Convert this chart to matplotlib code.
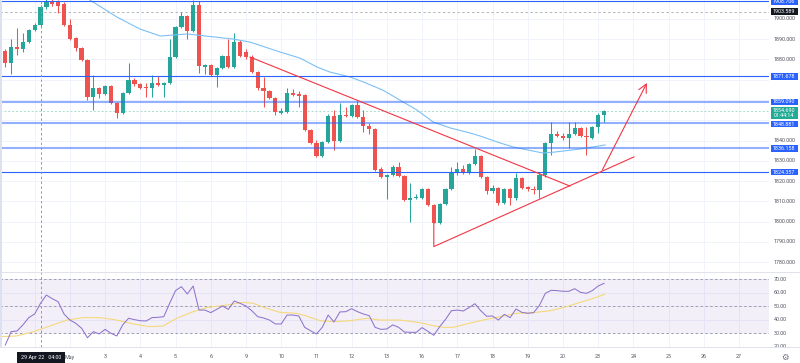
import matplotlib
matplotlib.use('Agg')
import matplotlib.pyplot as plt
from matplotlib.patches import Rectangle
import matplotlib.transforms as mtransforms
import numpy as np

plt.rcParams['font.family'] = ['Roboto', 'DejaVu Sans']

# ---------------- data (4h candles, XAUUSD) ----------------
opens = [1884.2, 1878.3, 1886.2, 1885.2, 1888.6, 1894.6, 1897.0, 1905.9, 1908.7, 1908.5,
         1907.5, 1897.0, 1890.6, 1885.7, 1879.8, 1861.5, 1865.9, 1863.0, 1866.9, 1858.5,
         1853.6, 1863.5, 1869.9, 1867.9, 1866.4, 1865.9, 1868.4, 1867.4, 1868.4, 1881.2,
         1896.0, 1901.5, 1894.1, 1906.9, 1876.3, 1877.3, 1872.4, 1875.8, 1881.7, 1876.3,
         1888.6, 1883.7, 1881.2, 1873.8, 1865.9, 1864.5, 1861.0, 1853.6, 1854.1, 1863.5,
         1863.0, 1862.5, 1845.2, 1838.8, 1832.4, 1839.3, 1852.1, 1839.8, 1852.6, 1852.1,
         1857.5, 1851.6, 1847.2, 1845.7, 1825.9, 1822.0, 1822.9, 1826.9, 1822.5, 1810.6,
         1811.6, 1811.6, 1816.1, 1808.1, 1799.3, 1808.6, 1816.1, 1824.4, 1825.9, 1823.9,
         1828.4, 1832.4, 1822.0, 1815.1, 1816.5, 1809.1, 1816.1, 1811.6, 1821.5, 1817.0,
         1816.1, 1815.6, 1822.9, 1838.8, 1843.2, 1842.2, 1841.2, 1843.2, 1846.2, 1842.2,
         1841.2, 1846.7, 1852.6]
highs = [1885.2, 1890.1, 1895.6, 1893.1, 1895.1, 1898.0, 1907.0, 1910.0, 1910.5, 1909.5,
         1908.5, 1899.9, 1891.1, 1886.2, 1880.3, 1872.4, 1866.4, 1867.4, 1867.4, 1859.0,
         1864.0, 1878.3, 1870.9, 1868.4, 1868.4, 1872.4, 1872.0, 1869.0, 1890.1, 1896.5,
         1903.5, 1902.0, 1909.4, 1909.0, 1878.0, 1877.8, 1876.3, 1882.2, 1890.1, 1893.1,
         1889.6, 1885.0, 1882.0, 1874.3, 1871.4, 1865.0, 1861.5, 1856.0, 1865.9, 1865.4,
         1864.5, 1863.0, 1845.7, 1840.3, 1840.0, 1853.0, 1855.1, 1858.5, 1856.5, 1858.0,
         1859.5, 1855.1, 1848.5, 1846.2, 1827.0, 1823.4, 1828.0, 1829.4, 1823.0, 1819.0,
         1813.5, 1816.6, 1816.6, 1808.6, 1809.1, 1816.6, 1826.9, 1829.4, 1827.9, 1829.0,
         1835.7, 1833.0, 1822.5, 1818.0, 1817.0, 1816.6, 1816.6, 1823.9, 1822.0, 1817.5,
         1817.5, 1823.9, 1839.3, 1849.1, 1844.5, 1843.5, 1849.1, 1849.1, 1846.7, 1846.7,
         1847.2, 1853.6, 1855.1]
lows = [1876.3, 1872.8, 1882.2, 1883.7, 1888.1, 1894.1, 1896.5, 1905.0, 1906.5, 1903.0,
        1896.5, 1889.6, 1884.2, 1879.3, 1860.0, 1855.1, 1861.0, 1862.5, 1858.0, 1851.1,
        1853.1, 1863.0, 1866.9, 1865.4, 1861.5, 1861.5, 1866.9, 1861.5, 1867.9, 1880.7,
        1895.5, 1890.1, 1893.6, 1873.3, 1872.8, 1872.0, 1866.4, 1875.3, 1875.8, 1875.8,
        1881.2, 1880.0, 1873.3, 1865.0, 1856.5, 1860.5, 1852.6, 1853.1, 1853.6, 1862.0,
        1856.5, 1844.7, 1838.3, 1832.0, 1831.9, 1839.0, 1835.3, 1839.3, 1851.6, 1851.6,
        1851.1, 1844.2, 1843.0, 1824.9, 1821.5, 1811.1, 1822.5, 1822.0, 1810.1, 1799.8,
        1811.1, 1811.1, 1807.6, 1799.3, 1799.0, 1808.1, 1815.6, 1822.9, 1823.4, 1823.4,
        1828.0, 1821.5, 1813.6, 1814.1, 1808.1, 1808.6, 1808.1, 1810.6, 1816.1, 1815.1,
        1813.6, 1811.6, 1822.0, 1832.8, 1841.5, 1840.3, 1836.5, 1842.7, 1841.7, 1832.8,
        1840.8, 1843.7, 1849.1]
closes = [1878.3, 1886.2, 1885.2, 1888.6, 1894.6, 1897.0, 1905.9, 1908.7, 1907.5, 1906.5,
          1897.0, 1890.1, 1885.7, 1879.8, 1861.5, 1865.9, 1863.0, 1866.9, 1858.5, 1853.6,
          1863.5, 1869.9, 1867.9, 1865.9, 1865.9, 1868.4, 1867.4, 1868.4, 1881.2, 1896.0,
          1901.5, 1894.1, 1906.9, 1876.8, 1877.3, 1872.4, 1875.8, 1881.7, 1876.3, 1888.6,
          1881.7, 1881.2, 1873.8, 1865.9, 1864.5, 1861.0, 1854.1, 1854.6, 1863.5, 1862.5,
          1862.0, 1845.2, 1838.8, 1832.4, 1839.3, 1852.1, 1839.8, 1852.6, 1852.1, 1857.5,
          1851.6, 1847.2, 1845.7, 1825.4, 1822.0, 1823.0, 1826.9, 1822.5, 1810.6, 1811.6,
          1812.1, 1816.1, 1808.1, 1799.3, 1808.6, 1816.1, 1824.4, 1825.9, 1823.9, 1828.4,
          1832.4, 1822.0, 1815.1, 1816.5, 1809.1, 1816.1, 1811.6, 1821.5, 1816.5, 1816.1,
          1815.6, 1822.9, 1838.8, 1843.2, 1842.2, 1841.2, 1843.2, 1846.2, 1842.2, 1841.7,
          1846.7, 1852.6, 1854.7]

rsi = [21.1, 31.0, 31.5, 36, 41.4, 44.1, 52, 58.1, 55.4, 53.2,
       44.1, 39.6, 37.2, 33.5, 26.5, 31, 29.3, 32.7, 29.8, 27.8,
       36, 40.9, 39.9, 39.1, 38.9, 41.4, 41.6, 42.1, 52, 61.4,
       64.3, 58.9, 64.8, 47, 47, 45.1, 47.5, 50, 47.5, 53.7,
       52, 50, 46.5, 42.1, 41.1, 39.6, 36.7, 36.7, 43.3, 43.3,
       42.6, 34.2, 31.7, 29.3, 34.2, 43.3, 38.2, 45.6, 45.8, 48,
       45.8, 44.1, 42.8, 34.2, 32.7, 33, 36, 34.2,
       30.7, 30.5, 30.5, 34, 31.2, 28.3, 34.7, 40.1, 46.5, 47,
       46.3, 48.8, 51.7, 46.5, 42.4, 42.6, 39.6, 43.8, 41.4, 47.8,
       45.3, 44.6, 45.1, 50.5, 59.4, 61.6, 61.4, 60.9, 60.9, 62.8,
       60.1, 59.4, 61.4, 64.8, 66.8]

rsi_ma_idx = [-0.9, 1.9, 4.8, 7.6, 10.5, 13.3, 16.1, 19, 21.8, 24.6, 26.9, 29.2, 32, 34.3,
              37.7, 40.5, 42.2, 44.5, 46.8, 49.6, 51.3, 53.6, 55.9, 58.7, 61.6, 63.8, 67.2,
              70.6, 72.9, 74.6, 76.3, 78.6, 81.4, 84.3, 87.1, 90, 92.8, 95.1, 97.4, 99.7, 102.1]
rsi_ma_val = [27.3, 27.8, 31.0, 35.2, 39.6, 41.4, 41.4, 39.6, 36.7, 34.7, 35.2, 40.9, 45.8, 48.8,
              50.7, 52.7, 52, 48.3, 45.3, 44.6, 42.6, 39.1, 38.4, 39.1, 40.9, 39.6, 39.6,
              37.7, 35.4, 34.2, 34.2, 36.7, 39.6, 42.1, 44.6, 45.1, 46.5, 48.8, 52, 55, 58.6]

ma_idx = [13.0, 14.4, 19.0, 22.9, 26.4, 31.0, 38.8, 41.7, 46.8, 50.2, 53.1, 55.3, 58.7, 61.0,
          64.3, 67.2, 70.1, 72.9, 75.8, 79.2, 80.9, 84.3, 86.5, 91.6, 93.6, 97.9, 102.2]
ma_val = [1912.0, 1909.4, 1901.0, 1895.1, 1891.6, 1892.6, 1890.1, 1888.6, 1883.7, 1880.7,
          1876.3, 1873.8, 1871.4, 1868.9, 1864.9, 1860.0, 1855.1, 1849.1, 1846.2, 1843.7,
          1842.2, 1838.8, 1836.8, 1833.8, 1834.3, 1835.8, 1837.8]

level_prices = [1908.706, 1871.678, 1859.090, 1848.881, 1836.158, 1824.357]
level_strong = [True, True, False, False, False, True]
crosshair_price = 1903.589
last_price = 1854.690
countdown = "01:44:14"
crosshair_idx = 6
crosshair_label = "29 Apr 22   04:00"

day_idx = [11, 17, 23, 29, 35, 41, 47, 53, 59, 65, 71, 77, 83, 89, 95, 101, 107, 113, 119, 125]
day_labels = ["May", "3", "4", "5", "6", "9", "10", "11", "12", "13", "16", "17", "18",
              "19", "20", "23", "24", "25", "26", "27"]
grid_idx = [5] + day_idx
price_ticks = list(range(1780, 1901, 10))
hidden_ticks = [1850, 1860, 1870]   # covered by the level labels
rsi_ticks = [20, 30, 40, 50, 60, 70]

desc_idx = [41.7, 96.2]
desc_px = [1881.2, 1817.5]
asc_idx = [73.0, 73.0, 107.1]
asc_px = [1799.3, 1787.6, 1831.9]
arrow_idx = [101.7, 109.3]
arrow_px = [1825.4, 1868.4]

# ---------------- layout ----------------
W, H = 800, 363
fig = plt.figure(figsize=(W / 100, H / 100), dpi=100)
fig.patch.set_facecolor('white')

PLOT_R = 769
MAIN_TOP, MAIN_BOT = 0, 271
RSI_TOP, RSI_BOT = 272, 347

ax = fig.add_axes([0, 1 - MAIN_BOT / H, PLOT_R / W, (MAIN_BOT - MAIN_TOP) / H])
rx = fig.add_axes([0, 1 - RSI_BOT / H, PLOT_R / W, (RSI_BOT - RSI_TOP) / H])

x0, dx = 5.3, 5.87
xlim = ((0 - x0) / dx, (PLOT_R - x0) / dx)
ylim_main = (1775.56, 1909.38)
ylim_rsi = (19.63, 75.19)

for a in (ax, rx):
    a.set_xlim(*xlim)
    for s in a.spines.values():
        s.set_visible(False)
    a.set_xticks([])
    a.set_yticks([])
    a.set_facecolor('white')
ax.set_ylim(*ylim_main)
rx.set_ylim(*ylim_rsi)

GRID = '#f0f3fa'
ax.hlines(price_ticks, *xlim, colors=GRID, lw=0.7, zorder=0)
ax.vlines(grid_idx, *ylim_main, colors=GRID, lw=0.7, zorder=0)
rx.hlines(rsi_ticks, *xlim, colors=GRID, lw=0.7, zorder=0)
rx.vlines(grid_idx, *ylim_rsi, colors=GRID, lw=0.7, zorder=0)

# horizontal levels
BLUE = '#2962ff'
for p, strong in zip(level_prices, level_strong):
    if strong:
        ax.axhline(p, color=BLUE, lw=0.8, zorder=5)
    else:
        ax.axhline(p, color=BLUE, lw=1.5, alpha=0.5, zorder=5)

# crosshair and last-price lines
ax.axhline(crosshair_price, color='#b2b5be', lw=0.7, ls=(0, (2.5, 2.5)), zorder=1)
ax.axhline(last_price, color='#a6dcd3', lw=0.7, ls=(0, (2, 2)), zorder=1)
ax.axvline(crosshair_idx, color='#9598a1', lw=0.7, ls=(0, (2.5, 2.5)), zorder=6)
rx.axvline(crosshair_idx, color='#9598a1', lw=0.7, ls=(0, (2.5, 2.5)), zorder=6)

# candles
o = np.array(opens); c = np.array(closes); h = np.array(highs); l = np.array(lows)
idx = np.arange(len(o))
up = c >= o
cols = np.where(up, '#26a69a', '#ef5350')
ax.vlines(idx, l, h, colors=cols, lw=0.75, zorder=3)
body = np.maximum(np.abs(c - o), 0.45)
ax.bar(idx, body, bottom=np.minimum(o, c), width=0.72, color=cols, linewidth=0, zorder=4)

# moving average
ax.plot(ma_idx, ma_val, color='#7cc0f5', lw=0.8, zorder=4)

# trend drawings
RED = '#f23645'
ax.plot(desc_idx, desc_px, color=RED, lw=0.8, zorder=6)
ax.plot(asc_idx, asc_px, color=RED, lw=0.8, zorder=6)
ax.annotate('', xy=(arrow_idx[1], arrow_px[1]), xytext=(arrow_idx[0], arrow_px[0]),
            arrowprops=dict(arrowstyle='->,head_length=0.6,head_width=0.3', color=RED, lw=0.8,
                            shrinkA=0, shrinkB=0), zorder=6)

# RSI pane
rx.axhspan(30, 70, color='#7e57c2', alpha=0.09, lw=0, zorder=0.5)
for lv in (70, 50, 30):
    rx.axhline(lv, color='#a09cb0', lw=0.7, ls=(0, (2.5, 2.5)), zorder=1)
rx.plot(np.arange(len(rsi)), rsi, color='#8e74cc', lw=0.75, zorder=3)
rx.plot(rsi_ma_idx, rsi_ma_val, color='#f5d97a', lw=0.8, zorder=2)

# separators, left strip
fig.add_artist(plt.Line2D([0, 1], [1 - 271.5 / H] * 2, color='#e0e3eb', lw=0.7))
fig.add_artist(plt.Line2D([0, 1], [1 - 347 / H] * 2, color='#e0e3eb', lw=0.7))
fig.add_artist(Rectangle((0, 1 - 347 / H), 2 / W, 347 / H, color='#dde1ef', lw=0))

# ---------------- right axis labels ----------------
FS = 3.9
TXT = '#50535e'
bt_main = mtransforms.blended_transform_factory(fig.transFigure, ax.transData)
bt_rsi = mtransforms.blended_transform_factory(fig.transFigure, rx.transData)
for p in price_ticks:
    if p in hidden_ticks:
        continue
    ax.text(774 / W, p, f'{p:.3f}', transform=bt_main, fontsize=FS, color=TXT,
            ha='left', va='center', clip_on=False, zorder=8)
for r in rsi_ticks:
    rx.text(774 / W, r, f'{r:.2f}', transform=bt_rsi, fontsize=FS, color=TXT,
            ha='left', va='center', clip_on=False, zorder=8)

ppx = (ylim_main[1] - ylim_main[0]) / (MAIN_BOT - MAIN_TOP)  # price per pixel
bx0, bx1 = 770.5 / W, 797.5 / W


def price_box(center, hpx, color, lines, line_offsets_px):
    rect = Rectangle((bx0, center - hpx / 2 * ppx), bx1 - bx0, hpx * ppx,
                     transform=bt_main, color=color, lw=0, clip_on=False, zorder=20)
    ax.add_patch(rect)
    for t, off in zip(lines, line_offsets_px):
        ax.text((bx0 + bx1) / 2, center - off * ppx, t, transform=bt_main, fontsize=FS,
                color='white', ha='center', va='center', clip_on=False, zorder=21)


label_shift = {1848.881: -1.5}
for p in level_prices:
    ctr = p + label_shift.get(p, 0) * ppx
    price_box(ctr, 6.6, BLUE, [f'{p:.3f}'], [0])
price_box(crosshair_price, 6.6, '#131722', [f'{crosshair_price:.3f}'], [0])
price_box(last_price - 2.2 * ppx, 12, '#22ab94', [f'{last_price:.3f}', countdown], [-2.8, 2.8])

# ---------------- time axis ----------------
bt_time = mtransforms.blended_transform_factory(rx.transData, fig.transFigure)
for i, lab in zip(day_idx, day_labels):
    rx.text(i, 1 - 357 / H, lab, transform=bt_time, fontsize=FS, color=TXT,
            ha='center', va='center', clip_on=False)
fig.add_artist(Rectangle((16.5 / W, 1 - 362.5 / H), 48.5 / W, 10.5 / H, color='#131722', lw=0))
fig.text(40.7 / W, 1 - 357.3 / H, crosshair_label, fontsize=FS, color='white',
         ha='center', va='center')
fig.text(785 / W, 1 - 357 / H, '\u2699', fontsize=6, color='#6a6d78', ha='center',
         va='center', family='DejaVu Sans')

fig.savefig('out.png', dpi=100, facecolor='white')
